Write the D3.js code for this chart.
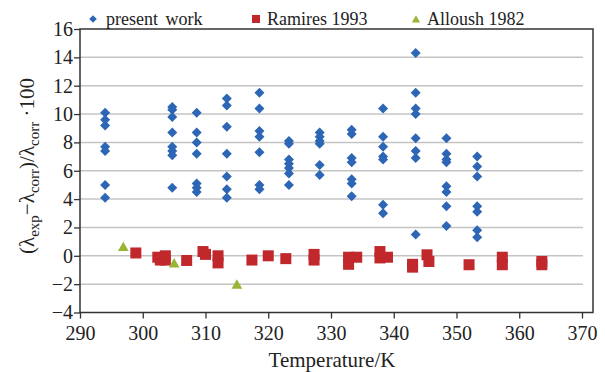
<!DOCTYPE html>
<html>
<head>
<meta charset="utf-8">
<script src="https://cdn.jsdelivr.net/npm/d3@7"></script>
<style>
  body { margin: 0; background: #fff; }
  text { font-family: "Liberation Serif", "Times New Roman", serif; fill: #222; }
</style>
</head>
<body>
<div id="chart"></div>
<script>
// chart size
var svgWidth = 605;
var svgHeight = 372;

// present work: temperatures and the values measured at each one
var presentTemps = [294.0, 304.7, 308.6, 313.4, 318.6, 323.3, 328.2, 333.3, 338.3, 343.5, 348.4, 353.3];
var presentValues = [
  [10.1, 9.6, 9.2, 7.7, 7.4, 5.0, 4.1],
  [10.5, 10.3, 9.8, 8.7, 7.7, 7.4, 7.1, 4.8],
  [10.1, 8.7, 8.0, 7.2, 5.1, 4.8, 4.5],
  [11.1, 10.6, 9.1, 7.2, 5.6, 4.7, 4.1],
  [11.5, 10.4, 8.8, 8.4, 7.3, 5.0, 4.7],
  [8.1, 7.9, 6.8, 6.5, 6.2, 5.8, 5.0],
  [8.7, 8.4, 8.1, 7.9, 6.4, 5.7],
  [8.9, 8.6, 6.9, 6.6, 5.4, 5.1, 4.2],
  [10.4, 8.4, 7.7, 7.0, 6.8, 3.6, 3.0],
  [14.3, 11.5, 10.4, 10.0, 8.3, 7.4, 6.9, 1.5],
  [8.3, 7.2, 6.8, 6.6, 4.9, 4.5, 3.5, 2.1],
  [7.0, 6.3, 5.6, 3.5, 3.1, 1.8, 1.3]
];

// Ramires 1993
var ramiresTemps = [298.9, 302.4, 302.8, 303.6, 303.6, 307.0, 309.6, 310.0, 312.0, 312.0, 317.4,
  320.0, 322.8, 327.3, 327.3, 332.8, 332.8, 334.1, 337.8, 337.8, 339.0, 343.0, 343.0,
  345.3, 345.6, 352.0, 357.3, 357.3, 363.6, 363.6];
var ramiresValues = [0.2, -0.1, -0.3, 0.0, -0.3, -0.33, 0.3, 0.1, 0.0, -0.5, -0.3,
  0.0, -0.2, 0.1, -0.3, -0.1, -0.6, -0.1, 0.3, -0.15, -0.1, -0.6, -0.8,
  0.07, -0.4, -0.63, -0.1, -0.63, -0.4, -0.63];

// Alloush 1982
var alloushTemps = [296.9, 305.0, 315.0];
var alloushValues = [0.55, -0.6, -2.1];

// axis ticks
var xTicks = [290, 300, 310, 320, 330, 340, 350, 360, 370];
var yTicks = [-4, -2, 0, 2, 4, 6, 8, 10, 12, 14, 16];

var blue = "#2d66b5";
var red = "#c0282c";
var green = "#98b535";

var svg = d3.select("#chart")
  .append("svg")
  .attr("width", svgWidth)
  .attr("height", svgHeight);

// scales
var xScale = d3.scaleLinear().domain([290, 370]).range([80, 582]);
var yScale = d3.scaleLinear().domain([-4, 16]).range([312.5, 29]);
var frameRight = 593;

// gridlines
svg.append("g")
  .selectAll("line")
  .data(yTicks.filter(d => d > -4 && d < 16))
  .enter().append("line")
  .attr("x1", 80)
  .attr("x2", xScale(370) + 1)
  .attr("y1", d => yScale(d))
  .attr("y2", d => yScale(d))
  .attr("stroke", "#c4c4c4")
  .attr("stroke-width", 1.5);

// frame
svg.append("rect")
  .attr("x", 80)
  .attr("y", yScale(16))
  .attr("width", frameRight - 80)
  .attr("height", yScale(-4) - yScale(16))
  .attr("fill", "none")
  .attr("stroke", "#333")
  .attr("stroke-width", 1.5);

// axes
var bottomAxis = d3.axisBottom(xScale).tickValues(xTicks).tickSize(6).tickPadding(7);
var leftAxis = d3.axisLeft(yScale).tickValues(yTicks).tickSize(6).tickPadding(1)
  .tickFormat(d => d < 0 ? "\u2212" + Math.abs(d) : d);

var xAxis = svg.append("g")
  .attr("transform", `translate(0, ${yScale(-4)})`)
  .call(bottomAxis);
var yAxis = svg.append("g")
  .attr("transform", "translate(80, 0)")
  .call(leftAxis);

[xAxis, yAxis].forEach(function (ax) {
  ax.attr("font-family", null);
  ax.select(".domain").remove();
  ax.selectAll("line").attr("stroke", "#333").attr("stroke-width", 1.3);
  ax.selectAll("text")
    .style("font-family", '"Liberation Serif", "Times New Roman", serif')
    .style("font-size", "20px")
    .attr("fill", "#222");
});

// axis titles
svg.append("text")
  .attr("x", 332)
  .attr("y", 367)
  .attr("text-anchor", "middle")
  .style("font-size", "21px")
  .text("Temperature/K");

var yLabel = svg.append("text")
  .attr("transform", "translate(34, 166) rotate(-90)")
  .attr("text-anchor", "middle")
  .style("font-size", "21px");
var labelParts = [["(\u03bb", 0], ["exp", 1], ["\u2212\u03bb", 0], ["corr", 1], [")/\u03bb", 0], ["corr", 1], [" \u00b7100", 0]];
var prevSub = 0;
labelParts.forEach(function (p) {
  var t = yLabel.append("tspan").text(p[0]);
  if (p[1] !== prevSub) t.attr("dy", p[1] ? 5 : -5);
  if (p[1]) t.style("font-size", "15px");
  prevSub = p[1];
});

// markers
var diamond = function (s) { return `M0,${-s}L${s},0L0,${s}L${-s},0Z`; };
var triangle = d3.symbol().type(d3.symbolTriangle);

var presentPoints = [];
presentTemps.forEach(function (t, i) {
  presentValues[i].forEach(function (v) { presentPoints.push({ t: t, v: v }); });
});

svg.append("g")
  .selectAll("path")
  .data(presentPoints)
  .enter().append("path")
  .attr("d", diamond(5))
  .attr("transform", d => `translate(${xScale(d.t)}, ${yScale(d.v)})`)
  .attr("fill", blue);

svg.append("g")
  .selectAll("rect")
  .data(ramiresTemps)
  .enter().append("rect")
  .attr("x", d => xScale(d) - 5.5)
  .attr("y", (d, i) => yScale(ramiresValues[i]) - 5.5)
  .attr("width", 11)
  .attr("height", 11)
  .attr("fill", red);

svg.append("g")
  .selectAll("path")
  .data(alloushTemps)
  .enter().append("path")
  .attr("d", triangle.size(50))
  .attr("transform", (d, i) => `translate(${xScale(d)}, ${yScale(alloushValues[i])})`)
  .attr("fill", green);

// legend
var legend = svg.append("g");
legend.append("path").attr("d", diamond(3.8)).attr("transform", "translate(93, 19)").attr("fill", blue);
legend.append("text").attr("x", 106).attr("y", 25).style("font-size", "18px").attr("word-spacing", "3px").text("present work");
legend.append("rect").attr("x", 252).attr("y", 15).attr("width", 8).attr("height", 8).attr("fill", red);
legend.append("text").attr("x", 267).attr("y", 25).style("font-size", "18px").text("Ramires 1993");
legend.append("path").attr("d", d3.symbol().type(d3.symbolTriangle).size(30)()).attr("transform", "translate(416, 20)").attr("fill", green);
legend.append("text").attr("x", 427).attr("y", 25).style("font-size", "18px").text("Alloush 1982");
</script>
</body>
</html>
